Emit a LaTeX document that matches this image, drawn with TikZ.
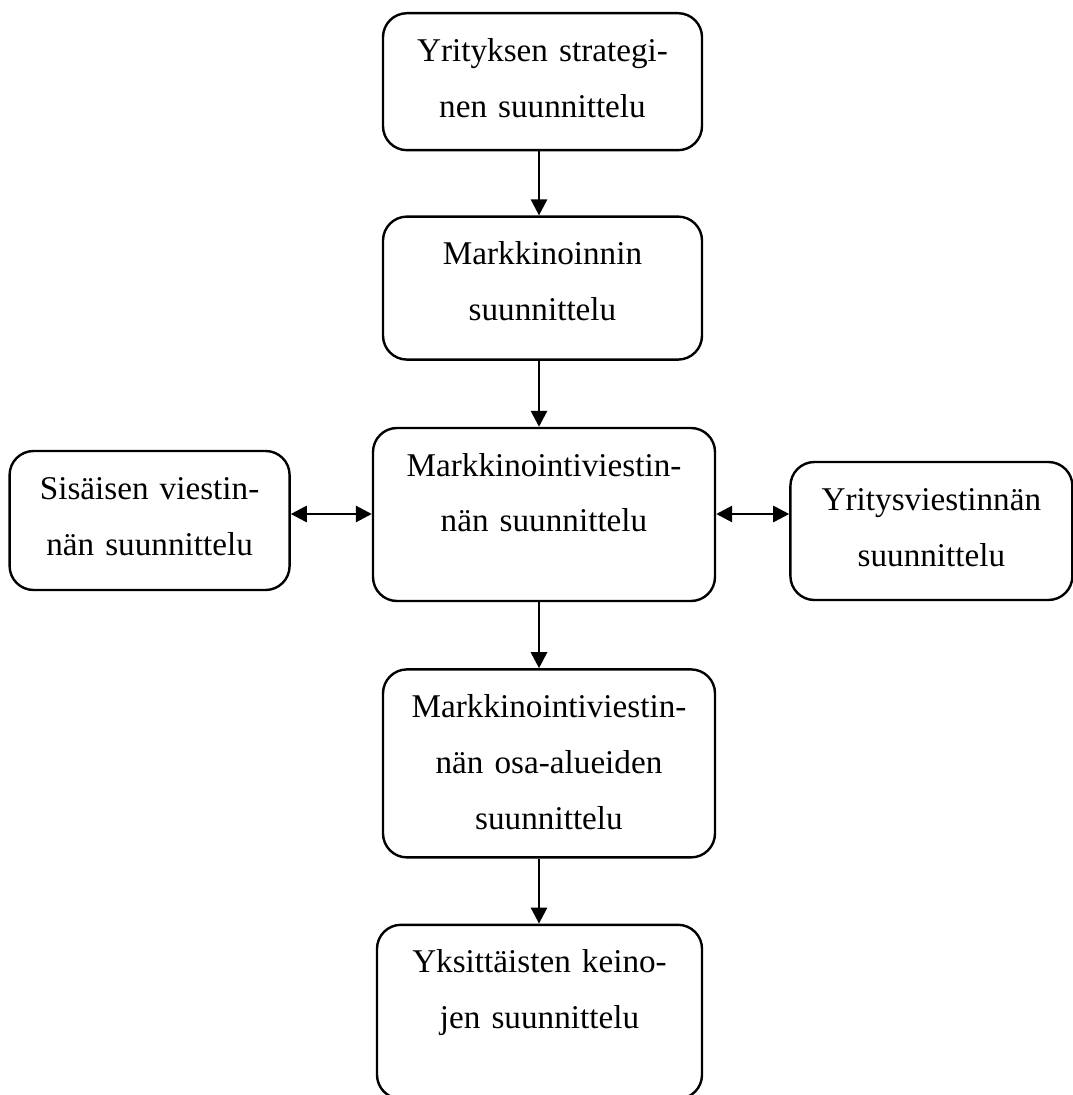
\documentclass[tikz,border=0pt]{standalone}
\usepackage{fontspec}
\setmainfont{Liberation Serif}
\usetikzlibrary{positioning}
\usetikzlibrary{arrows.meta}
\tikzset{
   phase/.style={draw, line width=1.2pt, rounded corners=12pt, align=center,
      inner xsep=0pt, inner ysep=11.5pt, text height=12.5pt,
      font=\fontsize{16.6pt}{28pt}\selectfont},
   flow/.style={line width=1.4pt, -{Triangle[length=8pt,width=8pt]}},
   twoway/.style={line width=1.4pt,
      {Triangle[length=8pt,width=8pt]}-{Triangle[length=8pt,width=8pt]}}
}

\begin{document}
\begin{tikzpicture}
      \useasboundingbox (0,0) rectangle (536pt,-547.5pt);
      \coordinate (axis) at (269.5pt,-257pt);

      \node[phase, text width=159.5pt, text depth=33pt, anchor=north] (strat) at (271.25pt,-6pt)
         {Yrityksen strategi-\\nen suunnittelu};
      \node[phase, text width=159.5pt, text depth=36pt, below=32pt of strat] (mark)
         {Markkinoinnin\\suunnittelu};
      \node[phase, text width=171pt, text depth=51pt, below=33pt of mark, xshift=0.75pt] (mviest)
         {Markkinointiviestin-\\nän suunnittelu};
      \node[phase, text width=140pt, text depth=34pt, left=40.5pt of mviest, yshift=-3pt] (sis)
         {Sisäisen viestin-\\nän suunnittelu};
      \node[phase, text width=141pt, text depth=33.5pt, right=36.5pt of mviest, yshift=-8.25pt] (yviest)
         {Yritysviestinnän\\suunnittelu};
      \node[phase, text width=166pt, text depth=58.5pt, below=33pt of mviest, xshift=2.5pt] (osa)
         {Markkinointiviestin-\\nän osa-alueiden\\suunnittelu};
      \node[phase, text width=162.5pt, text depth=51.5pt, below=32.5pt of osa, xshift=-4.75pt] (keino)
         {Yksittäisten keino-\\jen suunnittelu};

      \draw[flow] (strat.south -| axis) -- (mark.north -| axis);
      \draw[flow] (mark.south -| axis) -- (mviest.north -| axis);
      \draw[flow] (mviest.south -| axis) -- (osa.north -| axis);
      \draw[flow] (osa.south -| axis) -- (keino.north -| axis);
      \draw[twoway] (sis.east |- axis) -- (mviest.west |- axis);
      \draw[twoway] (mviest.east |- axis) -- (yviest.west |- axis);
   \end{tikzpicture}
\end{document}
